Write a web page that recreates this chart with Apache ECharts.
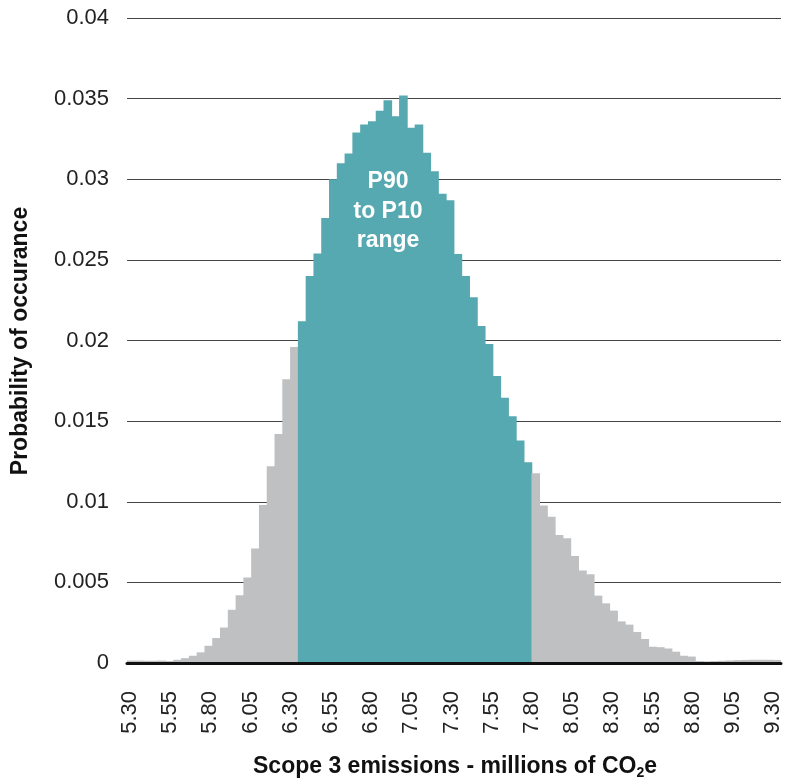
<!DOCTYPE html>
<html>
<head>
<meta charset="utf-8">
<script src="https://cdn.jsdelivr.net/npm/echarts@6/dist/echarts.min.js"></script>
<style>
  html, body { margin: 0; padding: 0; background: #fff; }
  #chart { width: 791px; height: 780px; }
</style>
</head>
<body>
<div id="chart"></div>
<script>
// x tick labels (millions of tCO2e)
const xTicks = ['5.30', '5.55', '5.80', '6.05', '6.30', '6.55', '6.80', '7.05', '7.30',
  '7.55', '7.80', '8.05', '8.30', '8.55', '8.80', '9.05', '9.30']

// histogram bins, left to right
const lowerTail = [0.00015, 0.00015, 0.00014, 0.00014, 0.00015, 0.00012, 0.0002, 0.0003,
  0.00045, 0.00066, 0.00107, 0.00155, 0.0022, 0.0033, 0.0042, 0.0053, 0.0071, 0.0098,
  0.0122, 0.0142, 0.0176, 0.0196]
const p90ToP10 = [0.0212, 0.0240, 0.0254, 0.0276, 0.0300, 0.0310, 0.0316, 0.0329, 0.0334,
  0.0336, 0.03425, 0.0349, 0.0339, 0.0352, 0.0332, 0.0334, 0.03165, 0.0305, 0.0291, 0.0287,
  0.02536, 0.0240, 0.02268, 0.0209, 0.01978, 0.0178, 0.01645, 0.0153, 0.0138, 0.01245]
const upperTail = [0.01176, 0.00976, 0.00907, 0.00794, 0.00773, 0.00664, 0.00573, 0.0055,
  0.00418, 0.0037, 0.00325, 0.00258, 0.00238, 0.00192, 0.00149, 0.00101, 0.00098, 0.0009,
  0.0007, 0.00045, 0.0004, 0.00012, 0.0001, 0.00012, 0.00014, 0.00016, 0.00018, 0.00019,
  0.0002, 0.0002, 0.0002, 0.00019]

const grey = '#BFC0C2'
const teal = '#56A9B0'
const font = 'Liberation Sans'

const bins = []
const binData = []
const pushBins = (list, color) => {
  list.forEach(v => {
    bins.push(String(bins.length))
    binData.push({ value: v, itemStyle: { color: color } })
  })
}
pushBins(lowerTail, grey)
pushBins(p90ToP10, teal)
pushBins(upperTail, grey)

const chart = echarts.init(document.getElementById('chart'))
chart.setOption({
  animation: false,
  grid: [
    { left: 127, right: 10, top: 18, bottom: 117, containLabel: false },
    { left: 130, right: 18, top: 18, bottom: 117, containLabel: false }
  ],
  xAxis: [
    {
      type: 'category',
      gridIndex: 0,
      data: bins,
      z: 5,
      axisLine: { show: true, lineStyle: { color: '#111', width: 3 } },
      axisTick: { show: false },
      axisLabel: { show: false },
      splitLine: { show: false }
    },
    {
      type: 'value',
      gridIndex: 1,
      min: 0,
      max: xTicks.length - 1,
      interval: 1,
      axisLine: { show: false },
      axisTick: { show: false },
      splitLine: { show: false },
      axisLabel: {
        rotate: 90,
        margin: 28,
        fontFamily: font,
        fontSize: 22,
        color: '#222',
        formatter: v => xTicks[v]
      }
    }
  ],
  yAxis: [
    {
      type: 'value',
      gridIndex: 0,
      min: 0,
      max: 0.04,
      interval: 0.005,
      axisLine: { show: false },
      axisTick: { show: false },
      axisLabel: {
        margin: 18,
        fontFamily: font,
        fontSize: 22,
        color: '#222',
        formatter: v => (v === 0 ? '0' : String(parseFloat(v.toFixed(3))))
      },
      splitLine: { lineStyle: { color: '#444', width: 1 } }
    },
    { type: 'value', gridIndex: 1, min: 0, max: 1, show: false }
  ],
  series: [
    {
      type: 'bar',
      xAxisIndex: 0,
      yAxisIndex: 0,
      barWidth: 8.6, // a touch wider than the band so neighbours overlap, no seams
      data: binData
    },
    { type: 'scatter', xAxisIndex: 1, yAxisIndex: 1, data: [] }
  ],
  graphic: [
    {
      type: 'text',
      x: 388,
      y: 167,
      z: 10,
      style: {
        text: 'P90\nto P10\nrange',
        textAlign: 'center',
        textVerticalAlign: 'top',
        font: 'bold 23px "Liberation Sans"',
        lineHeight: 29.5,
        fill: '#fff'
      }
    },
    {
      type: 'text',
      x: 21,
      y: 341,
      rotation: Math.PI / 2,
      style: {
        text: 'Probability of occurance',
        textAlign: 'center',
        textVerticalAlign: 'middle',
        font: 'bold 23px "Liberation Sans"',
        fill: '#111'
      }
    },
    {
      type: 'text',
      x: 455,
      y: 767,
      style: {
        text: '{a|Scope 3 emissions - millions of CO}{s|2}{a|e}',
        textAlign: 'center',
        textVerticalAlign: 'middle',
        fill: '#111',
        rich: {
          a: { fontFamily: font, fontWeight: 'bold', fontSize: 23, lineHeight: 26, fill: '#111' },
          s: { fontFamily: font, fontWeight: 'bold', fontSize: 14, lineHeight: 14, padding: [12, 0, 0, 0], fill: '#111' }
        }
      }
    }
  ]
})
</script>
</body>
</html>
